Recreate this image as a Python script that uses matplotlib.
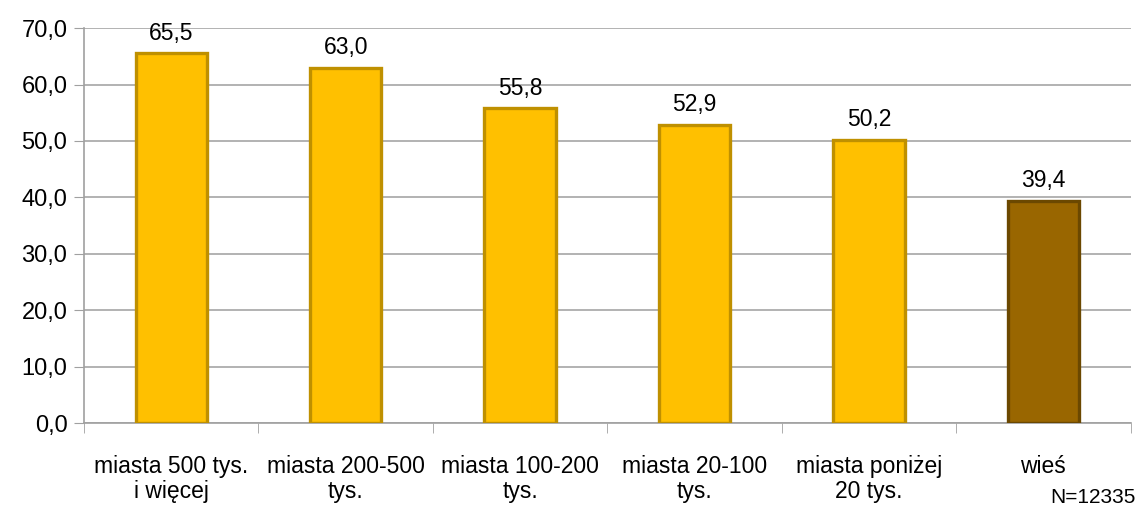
import matplotlib.pyplot as plt
import numpy as np

plt.rcParams['font.family'] = ['Liberation Sans', 'DejaVu Sans']

categories = ['miasta 500 tys.\ni więcej', 'miasta 200-500\ntys.', 'miasta 100-200\ntys.',
              'miasta 20-100\ntys.', 'miasta poniżej\n20 tys.', 'wieś']
values = [65.5, 63.0, 55.8, 52.9, 50.2, 39.4]
face_colors = ['#FFC000', '#FFC000', '#FFC000', '#FFC000', '#FFC000', '#996600']
edge_colors = ['#BF9000', '#BF9000', '#BF9000', '#BF9000', '#BF9000', '#6B4800']

fig = plt.figure(figsize=(11.42, 5.11), dpi=100)
ax = fig.add_axes([0.0736, 0.172, 0.9164, 0.773])

x = np.arange(len(categories))
bars = ax.bar(x, values, width=0.41, color=face_colors, edgecolor=edge_colors,
              linewidth=2.4, zorder=3)

for xi, v in zip(x, values):
    ax.text(xi, v + 1.5, f'{v:.1f}'.replace('.', ','), ha='center', va='bottom', fontsize=16.5)

ax.set_ylim(0, 70)
ax.set_xlim(-0.5, len(categories) - 0.5)
ax.set_yticks(np.arange(0, 71, 10))
ax.set_yticklabels([f'{t:.1f}'.replace('.', ',') for t in np.arange(0, 71, 10)], fontsize=17)
ax.set_xticks(x)
ax.set_xticklabels(categories, fontsize=16.5, linespacing=1.12)
ax.set_xticks(np.arange(-0.5, len(categories), 1), minor=True)
ax.tick_params(axis='x', which='major', length=0, pad=23)
ax.tick_params(axis='x', which='minor', length=7, color='#A0A0A0')
ax.tick_params(axis='y', length=7, color='#A0A0A0', pad=5)

ax.grid(axis='y', color='#A6A6A6', linewidth=1.2, zorder=0)
for s in ['top', 'right']:
    ax.spines[s].set_visible(False)
for s in ['left', 'bottom']:
    ax.spines[s].set_color('#A0A0A0')
    ax.spines[s].set_linewidth(1.2)

fig.text(0.994, 0.008, 'N=12335', ha='right', va='bottom', fontsize=15)

fig.savefig('out.png', dpi=100)
